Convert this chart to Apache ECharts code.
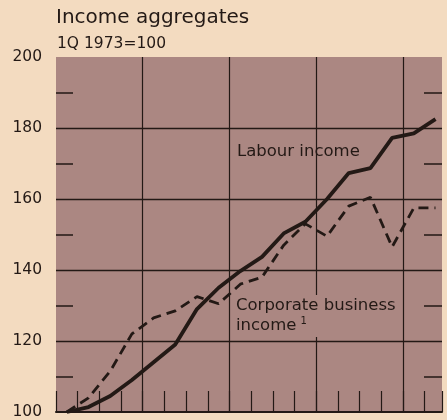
<!DOCTYPE html>
<html>
<head>
<meta charset="utf-8">
<script src="https://cdn.jsdelivr.net/npm/echarts@6/dist/echarts.min.js"></script>
<style>
  html, body { margin: 0; padding: 0; background: #f3dbc0; }
  #chart { width: 447px; height: 420px; }
</style>
</head>
<body>
<div id="chart"></div>
<script>
// quarters, 1Q 1973 = 100
const quarters = ['1973Q1', '1973Q2', '1973Q3', '1973Q4', '1974Q1', '1974Q2', '1974Q3', '1974Q4',
  '1975Q1', '1975Q2', '1975Q3', '1975Q4', '1976Q1', '1976Q2', '1976Q3', '1976Q4', '1977Q1', '1977Q2']
const labourIncome = [100, 101.4, 104.5, 109, 114, 119, 129, 135, 139.7, 143.7, 150.3, 153.6,
  160, 167.3, 168.7, 177.2, 178.5, 182.5]
const corporateIncome = [100, 104, 111.5, 122, 126.5, 128.5, 132.5, 130.5, 136, 138, 147, 153,
  149.5, 158, 160.5, 146.5, 157.5, 157.5]
const yTicks = [100, 120, 140, 160, 180, 200]
const yMinorTicks = [110, 130, 150, 170, 190]

const ink = '#231915'
const plotBg = '#ab8782'
const font = 'DejaVu Sans'
const yMin = yTicks[0]
const yMax = yTicks[yTicks.length - 1]

// each point sits in the middle of its quarter
const toPoints = vals => vals.map((v, i) => [i + 0.5, v])

// short tick axis pulled into the plot so its ticks point back to the edge
const tickAxis = (position, len) => ({
  type: 'value', min: yMin, max: yMax, interval: 10, position: position, offset: -len,
  axisLine: { show: false },
  axisTick: { show: true, length: len, customValues: yMinorTicks, lineStyle: { color: ink, width: 1.5 } },
  axisLabel: { show: false },
  splitLine: { show: false }
})

const chart = echarts.init(document.getElementById('chart'))
chart.setOption({
  backgroundColor: '#f3dbc0',
  animation: false,
  textStyle: { fontFamily: font },
  title: [
    {
      text: 'Income aggregates',
      left: 51, top: 3,
      textStyle: { fontSize: 20, fontWeight: 'normal', color: ink, fontFamily: font }
    },
    {
      text: '1Q 1973=100',
      left: 52, top: 31,
      textStyle: { fontSize: 15.5, fontWeight: 'normal', color: ink, fontFamily: font }
    }
  ],
  grid: {
    left: 56, right: 5, top: 57, bottom: 6,
    show: true, backgroundColor: plotBg, borderWidth: 0
  },
  xAxis: [
    {
      // quarter ticks along the bottom
      type: 'value', min: 0, max: 17.8, interval: 1,
      axisLine: { show: true, lineStyle: { color: ink, width: 2 } },
      axisTick: { show: true, inside: true, length: 21, lineStyle: { color: ink, width: 1.2 } },
      axisLabel: { show: false },
      splitLine: { show: false }
    },
    {
      // year lines
      type: 'value', min: 0, max: 17.8, interval: 4, position: 'top',
      axisLine: { show: false }, axisTick: { show: false }, axisLabel: { show: false },
      splitLine: { show: true, showMinLine: false, showMaxLine: false, lineStyle: { color: ink, width: 1.2 } }
    }
  ],
  yAxis: [
    {
      type: 'value', min: yMin, max: yMax, interval: 20, position: 'left',
      axisLine: { show: false },
      axisTick: { show: false },
      axisLabel: { fontSize: 15.5, color: ink, margin: 14, fontFamily: font },
      splitLine: { show: true, showMinLine: false, showMaxLine: false, lineStyle: { color: ink, width: 1.3 } }
    },
    tickAxis('left', 17),
    tickAxis('right', 18)
  ],
  series: [
    {
      name: 'Corporate business income',
      type: 'line',
      data: toPoints(corporateIncome),
      showSymbol: false,
      lineStyle: { color: ink, width: 2.8, type: [10, 6] },
      z: 3
    },
    {
      name: 'Labour income',
      type: 'line',
      data: toPoints(labourIncome),
      showSymbol: false,
      lineStyle: { color: ink, width: 3.8 },
      z: 4
    }
  ],
  graphic: [
    {
      type: 'text', left: 237, top: 143,
      style: { text: 'Labour income', fontSize: 16.5, fill: ink, fontFamily: font }
    },
    {
      type: 'text', left: 233, top: 295, z: 2,
      style: {
        text: 'Corporate business\nincome{sup|1}',
        fontSize: 16.5, lineHeight: 20, fill: ink, fontFamily: font,
        backgroundColor: plotBg, padding: [1, 2, 1, 3],
        rich: { sup: { fontSize: 10, verticalAlign: 'top', padding: [0, 0, 6, 4], fill: ink, fontFamily: font } }
      }
    }
  ]
})
</script>
</body>
</html>
